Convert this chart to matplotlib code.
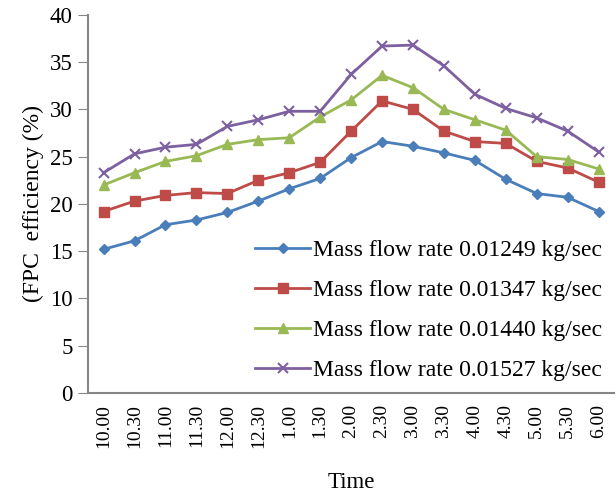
import matplotlib.pyplot as plt

plt.rcParams['font.family'] = ['Liberation Serif', 'DejaVu Serif']

times = ["10.00", "10.30", "11.00", "11.30", "12.00", "12.30", "1.00", "1.30",
         "2.00", "2.30", "3.00", "3.30", "4.00", "4.30", "5.00", "5.30", "6.00"]

eff_01249 = [15.2, 16.1, 17.8, 18.3, 19.1, 20.3, 21.6, 22.7, 24.9, 26.6, 26.1,
             25.4, 24.6, 22.6, 21.1, 20.7, 19.2]
eff_01347 = [19.2, 20.3, 20.9, 21.2, 21.1, 22.5, 23.3, 24.4, 27.7, 30.9, 30.0,
             27.7, 26.6, 26.4, 24.5, 23.8, 22.3]
eff_01440 = [22.0, 23.3, 24.5, 25.1, 26.3, 26.8, 27.0, 29.2, 31.0, 33.6, 32.3,
             30.0, 28.9, 27.8, 25.0, 24.7, 23.7]
eff_01527 = [23.3, 25.3, 26.0, 26.3, 28.2, 28.9, 29.8, 29.8, 33.7, 36.7, 36.8,
             34.6, 31.6, 30.1, 29.1, 27.7, 25.5]

labels = ["Mass flow rate 0.01249 kg/sec", "Mass flow rate 0.01347 kg/sec",
          "Mass flow rate 0.01440 kg/sec", "Mass flow rate 0.01527 kg/sec"]

fig = plt.figure(figsize=(6.16, 4.95), dpi=100)
ax = fig.add_axes([0.143, 0.206, 0.854, 0.764])

x = range(len(times))
ax.plot(x, eff_01249, color='#4A7EBB', marker='D', markersize=5, linewidth=2, label=labels[0])
ax.plot(x, eff_01347, color='#BE4B48', marker='s', markersize=7, linewidth=2, label=labels[1])
ax.plot(x, eff_01440, color='#98B954', marker='^', markersize=7, linewidth=2, label=labels[2])
ax.plot(x, eff_01527, color='#7D60A0', marker='x', markersize=7, markeredgewidth=1.5,
        linewidth=2, label=labels[3])

ax.set_xlim(-0.5, len(times) - 0.5)
ax.set_ylim(0, 40)
ax.set_yticks(range(0, 41, 5))
ax.set_xticks(list(x))
ax.set_xticklabels(times, rotation=90, fontsize=14)
ax.tick_params(axis='y', labelsize=16.5, length=7, color='#868686', pad=4)
ax.tick_params(axis='x', length=0, pad=8)

for side in ['top', 'right']:
    ax.spines[side].set_visible(False)
for side in ['left', 'bottom']:
    ax.spines[side].set_color('#868686')
    ax.spines[side].set_linewidth(1.5)

ax.set_xlabel("Time", fontsize=16.5, labelpad=17)
ax.set_ylabel("(FPC  efficiency (%)", fontsize=17, labelpad=4)

ax.legend(loc='lower right', bbox_to_anchor=(1.0, 0.0), frameon=False, fontsize=17,
          handlelength=2.3, handletextpad=0.15, labelspacing=0.78, borderaxespad=0.1)

fig.savefig("out.png", dpi=100)
